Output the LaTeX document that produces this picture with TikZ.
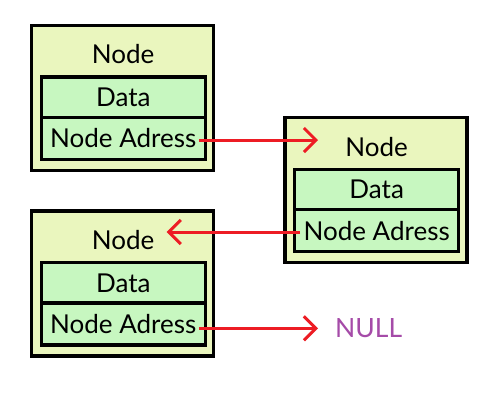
\documentclass[tikz,border=0pt]{standalone}
\usepackage{fontspec}
\setmainfont{Lato}
\usetikzlibrary{arrows.meta}
\definecolor{outerfill}{RGB}{234,246,190}
\definecolor{cellfill}{RGB}{199,247,192}
\definecolor{linkred}{RGB}{237,28,36}
\definecolor{nullpurple}{RGB}{165,75,168}
\tikzset{
  outerbox/.style={draw=black, fill=outerfill, line width=3.4pt, minimum width=182pt, minimum height=145pt, anchor=north west, outer sep=0pt, inner sep=0pt},
  cellbase/.style={draw=black, fill=cellfill, line width=3.4pt, minimum width=164pt, anchor=north west, outer sep=0pt, inner sep=0pt, font=\fontsize{26}{26}\selectfont, text height=18.7pt, text depth=0pt},
  datacell/.style={cellbase, minimum height=40.5pt},
  addrcell/.style={cellbase, minimum height=42pt},
  titletext/.style={font=\fontsize{26}{26}\selectfont, text height=18.7pt, text depth=0pt, inner sep=0pt},
  link/.style={draw=linkred, line width=3pt, -{Straight Barb[length=12pt,width=24pt]}},
  nulltext/.style={font=\fontsize{26.5}{26.5}\selectfont, text=nullpurple, inner sep=0pt, anchor=base west}
}
\begin{document}
\begin{tikzpicture}[x=1pt,y=-1pt]
\useasboundingbox[fill=white] (0,0) rectangle (499,407);
% box 1
\node[outerbox] (n1) at (31.7,25.3) {};
\node[titletext] (t1) at (123.2,54.3) {Node};
\node[datacell] (d1) at (41.3,76.8) {Data};
\node[addrcell] (a1) at (41.3,117.3) {Node Adress};
% box 2
\node[outerbox] (n2) at (285,117.7) {};
\node[titletext] (t2) at (376.7,147.2) {Node};
\node[datacell] (d2) at (294.7,169.2) {Data};
\node[addrcell] (a2) at (294.7,209.7) {Node Adress};
% box 3
\node[outerbox] (n3) at (31.7,211) {};
\node[titletext] (t3) at (123.2,240.3) {Node};
\node[datacell] (d3) at (41.3,262.5) {Data};
\node[addrcell] (a3) at (41.3,303) {Node Adress};
% NULL
\node[nulltext] (nul) at (335,337) {NULL};
% free ends
\coordinate (e1) at (318,140);
\coordinate (e2) at (166.7,232);
\coordinate (e3) at (318,328.3);
% links
\draw[link] ([shift={(-6,1.7)}]a1.east) -- (e1);
\draw[link] ([shift={(5.3,1.3)}]a2.west) -- (e2);
\draw[link] ([shift={(-6,4.3)}]a3.east) -- (e3);
\end{tikzpicture}
\end{document}
